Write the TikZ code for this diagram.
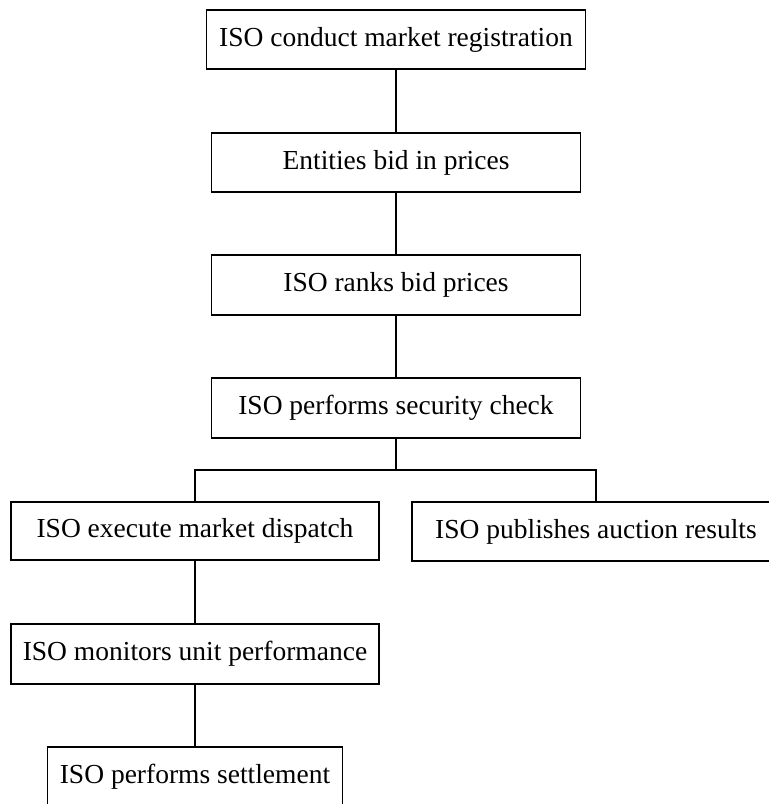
\documentclass[tikz,border=0pt]{standalone}
\usepackage{fontspec}
\setmainfont{Liberation Serif}
\begin{document}
\begin{tikzpicture}[x=1pt,y=-1pt,
  flowbox/.style={draw=black, line width=1.8pt, rectangle, inner sep=0pt, minimum height=59pt, font=\fontsize{27.5}{32}\selectfont},
  link/.style={draw=black, line width=1.8pt}]
\path[use as bounding box, clip] (0,0) rectangle (769,804);
\fill[white] (0,0) rectangle (769,804);
\node[flowbox, minimum width=379pt] (a) at (396,39.5) {ISO conduct market registration};
\node[flowbox, minimum width=369pt] (b) at (396,162.5) {Entities bid in prices};
\node[flowbox, minimum width=369pt, minimum height=60pt] (c) at (396,285) {ISO ranks bid prices};
\node[flowbox, minimum width=369pt, minimum height=60pt] (d) at (396,408) {ISO performs security check};
\node[flowbox, minimum width=368pt, minimum height=58pt] (e) at (195,531) {ISO execute market dispatch};
\node[flowbox, minimum width=368pt] (f) at (596,531.5) {ISO publishes auction results};
\node[flowbox, minimum width=368pt, minimum height=60pt] (g) at (195,654) {ISO monitors unit performance};
\node[flowbox, minimum width=295pt] (h) at (195,776.5) {ISO performs settlement};
\coordinate (j) at (396,470);
\draw[link] (a) -- (b);
\draw[link] (b) -- (c);
\draw[link] (c) -- (d);
\draw[link] (d.south) -- (j);
\draw[link] (e.north) |- (j) -| (f.north);
\draw[link] (e) -- (g);
\draw[link] (g) -- (h);
\end{tikzpicture}
\end{document}
